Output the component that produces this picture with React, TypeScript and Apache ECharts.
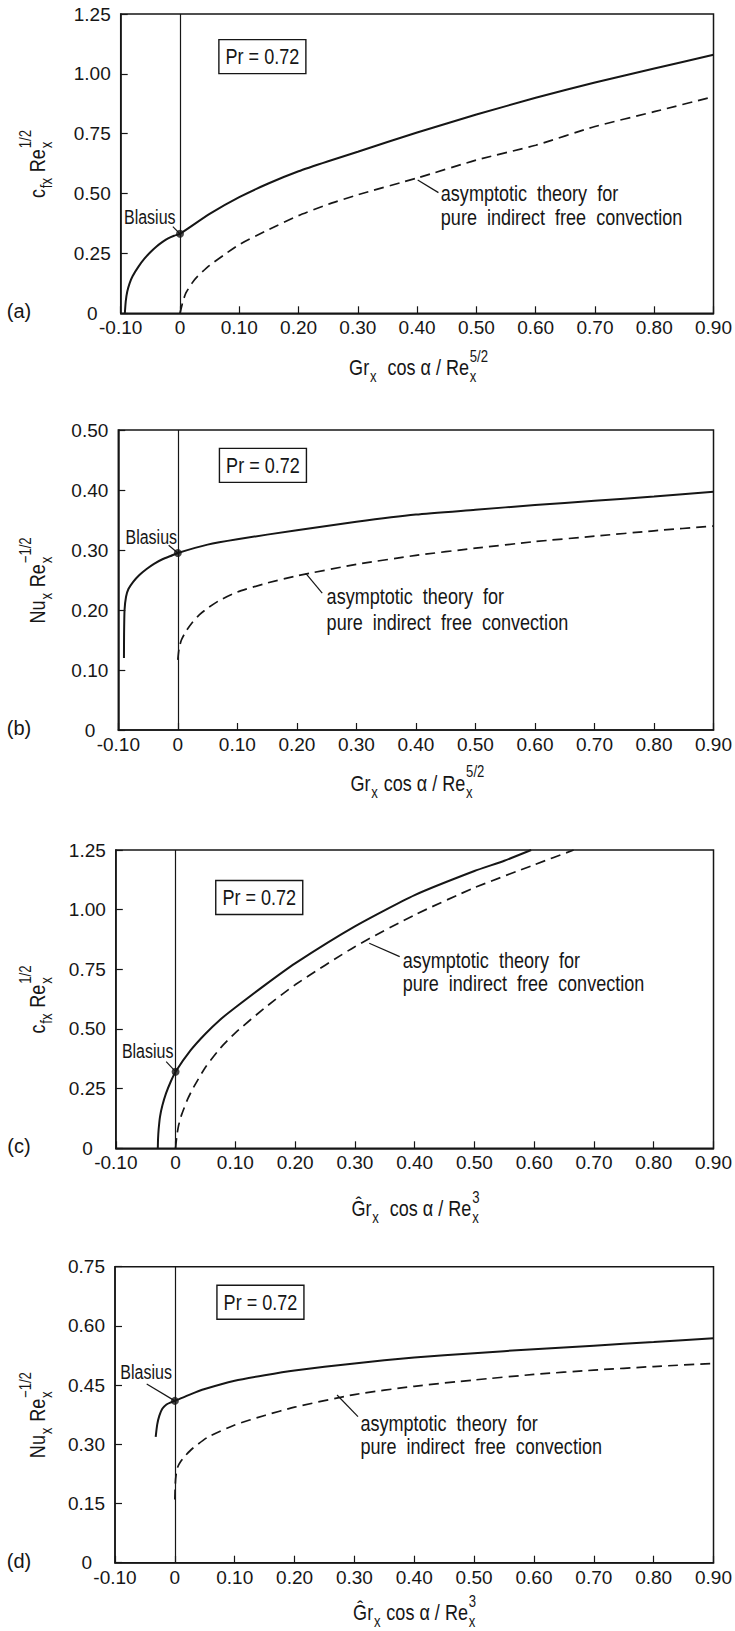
import React, { useEffect, useRef } from "react";
import * as echarts from "echarts";

// ---------------- data ----------------
const xTickLabels = ["-0.10", "0", "0.10", "0.20", "0.30", "0.40", "0.50", "0.60", "0.70", "0.80", "0.90"];
const yTickLabelsA = ["0", "0.25", "0.50", "0.75", "1.00", "1.25"];
const yTickLabelsB = ["0", "0.10", "0.20", "0.30", "0.40", "0.50"];
const yTickLabelsC = ["0", "0.25", "0.50", "0.75", "1.00", "1.25"];
const yTickLabelsD = ["0", "0.15", "0.30", "0.45", "0.60", "0.75"];

// (a) c_fx Re^1/2 vs Gr cos a / Re^5/2
const mixedA: number[][] = [
  [-0.093, 0], [-0.0915, 0.05], [-0.089, 0.09], [-0.085, 0.125], [-0.08, 0.155], [-0.07, 0.195],
  [-0.06, 0.228], [-0.05, 0.255], [-0.04, 0.278], [-0.03, 0.297], [-0.02, 0.313], [-0.01, 0.324],
  [0, 0.332], [0.05, 0.415], [0.1, 0.485], [0.15, 0.543], [0.2, 0.593], [0.25, 0.635], [0.3, 0.675],
  [0.4, 0.755], [0.5, 0.83], [0.6, 0.9], [0.7, 0.964], [0.8, 1.022], [0.9, 1.08],
];
const asymA: number[][] = [
  [0, 0], [0.005, 0.05], [0.01, 0.085], [0.02, 0.125], [0.03, 0.155], [0.05, 0.2], [0.075, 0.245],
  [0.1, 0.287], [0.15, 0.35], [0.2, 0.408], [0.25, 0.455], [0.3, 0.495], [0.4, 0.565], [0.5, 0.64],
  [0.6, 0.702], [0.7, 0.78], [0.8, 0.842], [0.9, 0.905],
];
// (b) Nu Re^-1/2 vs Gr cos a / Re^5/2
const mixedB: number[][] = [
  [-0.0905, 0.12], [-0.0903, 0.16], [-0.0895, 0.2], [-0.087, 0.222], [-0.083, 0.235], [-0.075, 0.247],
  [-0.065, 0.258], [-0.053, 0.268], [-0.04, 0.277], [-0.025, 0.285], [-0.012, 0.29], [0, 0.295],
  [0.05, 0.309], [0.1, 0.318], [0.2, 0.333], [0.3, 0.347], [0.4, 0.359], [0.5, 0.367], [0.6, 0.375],
  [0.7, 0.382], [0.8, 0.389], [0.9, 0.397],
];
const asymB: number[][] = [
  [0, 0.117], [0.002, 0.135], [0.006, 0.15], [0.014, 0.165], [0.025, 0.18], [0.036, 0.192],
  [0.05, 0.203], [0.07, 0.216], [0.1, 0.23], [0.15, 0.245], [0.2, 0.257], [0.3, 0.276], [0.4, 0.291],
  [0.5, 0.303], [0.6, 0.314], [0.7, 0.323], [0.8, 0.332], [0.9, 0.34],
];
// (c) c_fx Re^1/2 vs G^r cos a / Re^3
const mixedC: number[][] = [
  [-0.0297, 0], [-0.0293, 0.04], [-0.0283, 0.08], [-0.026, 0.133], [-0.022, 0.18], [-0.016, 0.23],
  [-0.008, 0.28], [0, 0.321], [0.025, 0.41], [0.05, 0.48], [0.075, 0.54], [0.1, 0.59], [0.15, 0.685],
  [0.2, 0.775], [0.3, 0.93], [0.4, 1.061], [0.5, 1.162], [0.55, 1.205], [0.595, 1.25],
];
const asymC: number[][] = [
  [0, 0], [0.002, 0.05], [0.005, 0.095], [0.01, 0.14], [0.02, 0.205], [0.03, 0.255], [0.05, 0.34],
  [0.075, 0.42], [0.1, 0.484], [0.15, 0.59], [0.2, 0.685], [0.3, 0.845], [0.4, 0.978], [0.5, 1.092],
  [0.6, 1.188], [0.666, 1.25],
];
// (d) Nu Re^-1/2 vs G^r cos a / Re^3
const mixedD: number[][] = [
  [-0.032, 0.319], [-0.0295, 0.35], [-0.026, 0.372], [-0.021, 0.39], [-0.014, 0.401], [-0.007, 0.406],
  [0, 0.41], [0.025, 0.426], [0.05, 0.44], [0.1, 0.461], [0.15, 0.475], [0.2, 0.487], [0.3, 0.505],
  [0.4, 0.52], [0.5, 0.531], [0.6, 0.541], [0.7, 0.55], [0.8, 0.559], [0.9, 0.569],
];
const asymD: number[][] = [
  [0, 0.16], [0.0008, 0.2], [0.002, 0.222], [0.005, 0.243], [0.01, 0.257], [0.018, 0.272], [0.03, 0.29],
  [0.055, 0.318], [0.1, 0.349], [0.15, 0.373], [0.2, 0.394], [0.3, 0.426], [0.4, 0.447], [0.5, 0.463],
  [0.6, 0.477], [0.7, 0.488], [0.8, 0.497], [0.9, 0.505],
];
const blasiusValues = [0.332, 0.295, 0.321, 0.41];
const yMaxes = [1.25, 0.5, 1.25, 0.75];
const yIntervals = [0.25, 0.1, 0.25, 0.15];
const panelTags = ["(a)", "(b)", "(c)", "(d)"];
const prText = "Pr = 0.72";
const blasiusText = "Blasius";
const asymLine1 = "asymptotic  theory  for";
const asymLine2 = "pure  indirect  free  convection";

type Part = { t: string; sub?: string; sup?: string };
const xTitles: Part[][] = [
  [{ t: "Gr", sub: "x" }, { t: "  cos α / Re", sub: "x", sup: "5/2" }],
  [{ t: "Gr", sub: "x" }, { t: " cos α / Re", sub: "x", sup: "5/2" }],
  [{ t: "Ĝr", sub: "x" }, { t: "  cos α / Re", sub: "x", sup: "3" }],
  [{ t: "Ĝr", sub: "x" }, { t: " cos α / Re", sub: "x", sup: "3" }],
];
const yTitles: Part[][] = [
  [{ t: "c", sub: "fx" }, { t: " Re", sub: "x", sup: "1/2" }],
  [{ t: "Nu", sub: "x" }, { t: " Re", sub: "x", sup: "−1/2" }],
  [{ t: "c", sub: "fx" }, { t: " Re", sub: "x", sup: "1/2" }],
  [{ t: "Nu", sub: "x" }, { t: " Re", sub: "x", sup: "−1/2" }],
];

// ---------------- layout ----------------
const grids = [
  { left: 120.7, top: 14, width: 596.6, height: 299.3 },
  { left: 118.3, top: 430, width: 599, height: 300 },
  { left: 115.8, top: 850, width: 600.2, height: 298.3 },
  { left: 115, top: 1266.7, width: 600, height: 296 },
];
// annotation anchors in data units of each panel
const annots = [
  { pr: [0.139, 1.072], bl: [-0.051, 0.4], blFrom: [-0.012, 0.362], asFrom: [0.401, 0.557], asTo: [0.436, 0.504], t1: [0.44, 0.5], t2: [0.44, 0.402], xTitleDy: 54 },
  { pr: [0.143, 0.441], bl: [-0.0446, 0.321], blFrom: [-0.0154, 0.308], asFrom: [0.215, 0.261], asTo: [0.2426, 0.228], t1: [0.25, 0.223], t2: [0.25, 0.18], xTitleDy: 53 },
  { pr: [0.14, 1.051], bl: [-0.0467, 0.404], blFrom: [-0.0157, 0.363], asFrom: [0.324, 0.859], asTo: [0.375, 0.803], t1: [0.38, 0.789], t2: [0.38, 0.693], xTitleDy: 60 },
  { pr: [0.143, 0.66], bl: [-0.048, 0.483], blFrom: [-0.047, 0.453], asFrom: [0.271, 0.425], asTo: [0.306, 0.37], t1: [0.31, 0.354], t2: [0.31, 0.296], xTitleDy: 50 },
];

const INK = "#161616";
const TAGFONT = "'Liberation Sans', Arial, sans-serif";

function hasNarrow(): boolean {
  const c = document.createElement("canvas").getContext("2d");
  if (!c) return false;
  const probe = "0.30 asymptotic theory";
  c.font = "40px monospace";
  const m = c.measureText(probe).width;
  c.font = "40px 'Liberation Sans Narrow', monospace";
  const n = c.measureText(probe).width;
  c.font = "40px 'Liberation Sans', monospace";
  const l = c.measureText(probe).width;
  return Math.abs(n - m) > 0.5 && n < l * 0.9;
}

let measureCtx: CanvasRenderingContext2D | null = null;
function measure(t: string, size: number, family: string): number {
  if (!measureCtx) measureCtx = document.createElement("canvas").getContext("2d");
  if (!measureCtx) return t.length * size * 0.5;
  measureCtx.font = `${size}px ${family}`;
  return measureCtx.measureText(t).width;
}

function txt(x: number, y: number, text: string, size: number, family: string, align = "left", vAlign = "middle", sx = 1) {
  return {
    type: "text",
    x,
    y,
    scaleX: sx,
    z: 100,
    style: {
      text,
      font: `${size}px ${family}`,
      fill: INK,
      textAlign: align,
      textVerticalAlign: vAlign,
      align,
      verticalAlign: vAlign,
    },
  };
}

function mathGroup(parts: Part[], fs: number, family: string, cx: number, cy: number, rotation: number, sx: number) {
  const sfs = Math.round(fs * 0.74);
  const children: any[] = [];
  let x = 0;
  for (const p of parts) {
    children.push(txt(x, 0, p.t, fs, family));
    x += measure(p.t, fs, family);
    let w = 0;
    if (p.sub) {
      children.push(txt(x + 1, fs * 0.42, p.sub, sfs, family));
      w = Math.max(w, measure(p.sub, sfs, family));
    }
    if (p.sup) {
      children.push(txt(x + 1, -fs * 0.5, p.sup, sfs, family));
      w = Math.max(w, measure(p.sub ? p.sup : p.sup, sfs, family));
    }
    x += w ? w + 2 : 0;
  }
  const half = x / 2;
  children.forEach((c) => (c.x -= half));
  return { type: "group", x: cx, y: cy, rotation, scaleX: sx, z: 100, children };
}

function lineEl(a: number[], b: number[], w = 1.2) {
  return { type: "line", z: 100, shape: { x1: a[0], y1: a[1], x2: b[0], y2: b[1] }, style: { stroke: INK, lineWidth: w } };
}

export default function App() {
  const ref = useRef<HTMLDivElement>(null);

  useEffect(() => {
    if (!ref.current) return;
    const narrow = hasNarrow();
    const FAMILY = narrow ? "'Liberation Sans Narrow', 'Liberation Sans', sans-serif" : "'Liberation Sans', Arial, sans-serif";
    const SX = narrow ? 1 : 0.82;
    const TICK_FS = narrow ? 21 : 19;

    const chart = echarts.init(ref.current, undefined, { renderer: "svg" });
    const yLabelSets = [yTickLabelsA, yTickLabelsB, yTickLabelsC, yTickLabelsD];
    const mixedSets = [mixedA, mixedB, mixedC, mixedD];
    const asymSets = [asymA, asymB, asymC, asymD];
    const tickFont = { color: INK, fontSize: TICK_FS, fontFamily: FAMILY };

    const option: any = {
      animation: false,
      backgroundColor: "#ffffff",
      grid: grids.map((g) => ({ ...g, show: true, borderColor: INK, borderWidth: 1.5, backgroundColor: "transparent" })),
      xAxis: grids.map((_, i) => ({
        type: "value",
        gridIndex: i,
        min: -0.1,
        max: 0.9,
        interval: 0.1,
        axisLine: { show: true, onZero: false, lineStyle: { color: INK, width: 1.5 } },
        axisTick: { show: true, inside: true, length: 7, lineStyle: { color: INK, width: 1.2 } },
        axisLabel: {
          ...tickFont,
          margin: 5,
          formatter: (v: number) => xTickLabels[Math.round((v + 0.1) / 0.1)] ?? "",
        },
        splitLine: { show: false },
      })),
      yAxis: grids.map((_, i) => ({
        type: "value",
        gridIndex: i,
        min: 0,
        max: yMaxes[i],
        interval: yIntervals[i],
        axisLine: { show: true, onZero: false, lineStyle: { color: INK, width: 1.5 } },
        axisTick: { show: true, inside: true, length: 7, lineStyle: { color: INK, width: 1.2 } },
        axisLabel: {
          ...tickFont,
          margin: 10,
          formatter: (v: number) => {
            const k = Math.round(v / yIntervals[i]);
            const s = yLabelSets[i][k] ?? "";
            return k === 0 ? `{z|${s}}` : s;
          },
          rich: { z: { ...tickFont, padding: [0, 13, 0, 0] } },
        },
        splitLine: { show: false },
      })),
      series: grids.flatMap((_, i) => [
        {
          type: "line",
          xAxisIndex: i,
          yAxisIndex: i,
          data: mixedSets[i],
          showSymbol: false,
          smooth: 0.2,
          lineStyle: { color: INK, width: 2 },
          markLine: {
            silent: true,
            symbol: ["none", "none"],
            label: { show: false },
            lineStyle: { color: INK, width: 1.2, type: "solid" },
            data: [{ xAxis: 0 }],
          },
        },
        {
          type: "line",
          xAxisIndex: i,
          yAxisIndex: i,
          data: asymSets[i],
          showSymbol: false,
          smooth: 0.2,
          lineStyle: { color: INK, width: 1.7, type: [10, 6] },
        },
        {
          type: "scatter",
          xAxisIndex: i,
          yAxisIndex: i,
          data: [[0, blasiusValues[i]]],
          symbolSize: 8,
          itemStyle: { color: INK },
          z: 5,
        },
      ]),
    };
    chart.setOption(option);

    const graphics: any[] = [];
    grids.forEach((g, i) => {
      const a = annots[i];
      const px = (p: number[]) => chart.convertToPixel({ gridIndex: i } as any, p) as number[];
      // Pr box
      const pc = px(a.pr);
      graphics.push({
        type: "rect",
        z: 100,
        shape: { x: pc[0] - 43.5, y: pc[1] - 17, width: 87, height: 34 },
        style: { fill: "#ffffff", stroke: INK, lineWidth: 1.4 },
      });
      graphics.push(txt(pc[0], pc[1], prText, 22, FAMILY, "center", "middle", SX));
      // Blasius
      const bc = px(a.bl);
      graphics.push(txt(bc[0], bc[1], blasiusText, 19.5, FAMILY, "center", "middle", SX));
      graphics.push(lineEl(px(a.blFrom), px([0, blasiusValues[i]])));
      // asymptotic theory label
      graphics.push(lineEl(px(a.asFrom), px(a.asTo)));
      const t1 = px(a.t1);
      const t2 = px(a.t2);
      graphics.push(txt(t1[0], t1[1], asymLine1, 22, FAMILY, "left", "middle", SX));
      graphics.push(txt(t2[0], t2[1], asymLine2, 22, FAMILY, "left", "middle", SX));
      // panel tag
      graphics.push(txt(19, g.top + g.height - 2, panelTags[i], 20, TAGFONT, "center", "middle"));
      // axis titles
      graphics.push(mathGroup(xTitles[i], 22, FAMILY, g.left + g.width / 2, g.top + g.height + a.xTitleDy, 0, SX));
      graphics.push(mathGroup(yTitles[i], 22, FAMILY, 37, g.top + g.height / 2, Math.PI / 2, SX));
    });
    chart.setOption({ graphic: graphics });

    return () => chart.dispose();
  }, []);

  return (
    <div
      ref={ref}
      style={{ position: "absolute", left: 0, top: 0, width: 735, height: 1631, background: "#ffffff" }}
    />
  );
}
